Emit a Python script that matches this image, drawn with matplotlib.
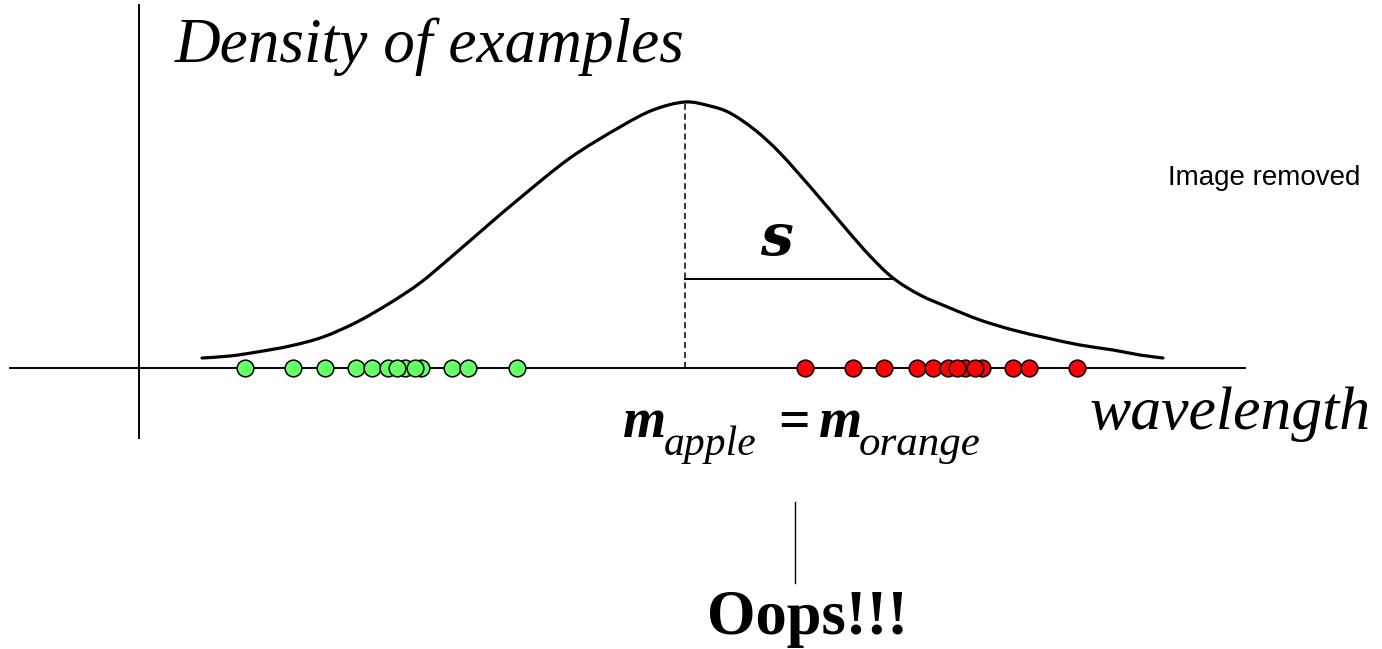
import numpy as np
import matplotlib
matplotlib.use('Agg')
import matplotlib.pyplot as plt
from matplotlib.path import Path
from matplotlib.patches import PathPatch

serif = 'Liberation Serif'

# Density curve (wavelength, density)
curve_x = [63, 91, 118, 151, 184, 218, 251, 281, 311, 348, 381, 431, 481, 514, 546,
           571, 591, 616, 641, 674, 708, 731, 754, 781, 811, 841, 874, 908, 941, 974,
           1001, 1024]
curve_y = [10, 12, 16, 22, 31, 46, 65, 85, 110, 142, 170, 210, 241, 258, 266,
           262, 255, 238, 215, 178, 138, 112, 90, 73, 60, 48, 38, 30, 23, 18,
           13, 10]

mean_x = 546
sigma_x = 756

# Sample wavelengths (draw order kept so overlaps look right)
apples = [106, 154, 186, 217, 233, 249, 266, 282, 258, 276, 313, 329, 378]
oranges = [666, 714, 745, 778, 794, 809, 826, 843, 818, 836, 874, 890, 938]


def smooth_path(xs, ys):
    # Catmull-Rom through the read points, as cubic bezier segments
    p = np.column_stack([xs, ys]).astype(float)
    p = np.vstack([p[0], p, p[-1]])
    verts = [p[1]]
    codes = [Path.MOVETO]
    for i in range(1, len(p) - 2):
        c1 = p[i] + (p[i + 1] - p[i - 1]) / 6
        c2 = p[i + 1] - (p[i + 2] - p[i]) / 6
        verts += [c1, c2, p[i + 1]]
        codes += [Path.CURVE4] * 3
    return Path(verts, codes)


fig = plt.figure(figsize=(13.82, 6.49), dpi=100)
ax = fig.add_axes([0, 0, 1, 1])
ax.set_xlim(-139, 1382 - 139)
ax.set_ylim(368 - 649, 368)
ax.axis('off')

# axes lines
ax.plot([-129, 1106], [0, 0], color='black', lw=1.4, zorder=1)
ax.plot([0, 0], [-70, 363], color='black', lw=1.4, zorder=1)

# curve
ax.add_patch(PathPatch(smooth_path(curve_x, curve_y), fill=False, edgecolor='black',
                       lw=2.3, capstyle='round', joinstyle='round', zorder=2))

# mean (dashed) and sigma
peak = curve_y[curve_x.index(mean_x)]
ax.plot([mean_x, mean_x], [0, peak], color='black', lw=1.1, ls=(0, (4, 2.5)), zorder=2)
sig_h = float(np.interp(sigma_x, curve_x, curve_y))
ax.plot([mean_x, sigma_x], [sig_h, sig_h], color='black', lw=1.4, zorder=2)
ax.text(637, 113, 's', fontfamily='DejaVu Serif', fontsize=42,
        fontweight='bold', fontstyle='italic', ha='center', va='baseline')

# sample points
for x in apples:
    ax.plot(x, 0, 'o', ms=12, mfc='#66FF66', mec='black', mew=1.1, zorder=3)
for x in oranges:
    ax.plot(x, 0, 'o', ms=12, mfc='#FF0000', mec='black', mew=1.1, zorder=3)

# labels
ax.text(36, 306, 'Density of examples', fontfamily=serif, fontstyle='italic',
        fontsize=45.5, ha='left', va='baseline')
ax.text(951, -61, 'wavelength', fontfamily=serif, fontstyle='italic',
        fontsize=44.5, ha='left', va='baseline')

# m_apple = m_orange
ax.text(484, -69, 'm', fontfamily=serif, fontweight='bold', fontstyle='italic',
        fontsize=40, ha='left', va='baseline')
ax.text(525, -87, 'apple', fontfamily=serif, fontstyle='italic',
        fontsize=30, ha='left', va='baseline')
ax.text(639, -70, '=', fontfamily=serif, fontweight='bold',
        fontsize=40, ha='left', va='baseline')
ax.text(680, -69, 'm', fontfamily=serif, fontweight='bold', fontstyle='italic',
        fontsize=40, ha='left', va='baseline')
ax.text(720, -87, 'orange', fontfamily=serif, fontstyle='italic',
        fontsize=31, ha='left', va='baseline')

ax.plot([656, 656], [-134, -215], color='black', lw=1.0)
ax.text(669, -266, 'Oops!!!', fontfamily=serif, fontweight='bold', fontsize=45,
        ha='center', va='baseline')

ax.text(1029, 190, 'Image removed',
        fontfamily='Liberation Sans', fontsize=20, ha='left', va='center')

fig.savefig('out.png', dpi=100, facecolor='white')
